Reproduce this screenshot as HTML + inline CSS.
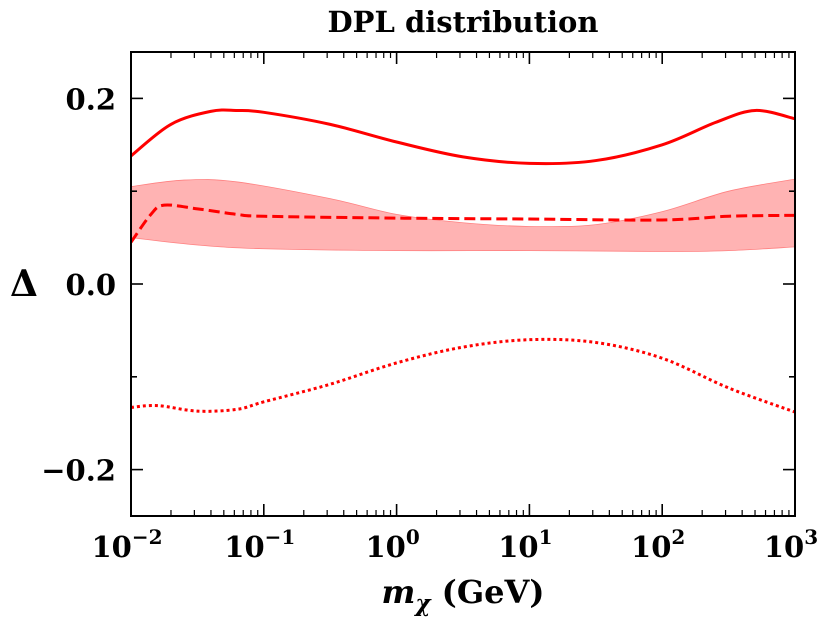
<!DOCTYPE html>
<html><head><meta charset="utf-8"><style>
html,body{margin:0;padding:0;background:#fff;}
svg text{font-family:"DejaVu Serif","Liberation Serif",serif;font-weight:bold;fill:#000;}
</style></head><body>
<svg id="chart" width="830" height="621" xmlns="http://www.w3.org/2000/svg"></svg>
<script>
const xsSolid=[-2,-1.7,-1.4,-1.2,-1,-0.5,0,0.5,1,1.5,2,2.4,2.7,3];
const solidVals=[0.138,0.172,0.186,0.187,0.185,0.172,0.153,0.137,0.130,0.133,0.150,0.174,0.187,0.178];
const xsDot=[-2,-1.8,-1.5,-1.2,-1,-0.5,0,0.5,1,1.5,2,2.5,3];
const dotVals=[-0.133,-0.131,-0.137,-0.135,-0.127,-0.108,-0.085,-0.068,-0.060,-0.063,-0.080,-0.112,-0.138];
const xsDash=[-2,-1.85,-1.75,-1.5,-1.2,-1,0,1,2,2.5,3];
const dashVals=[0.045,0.075,0.085,0.081,0.075,0.073,0.071,0.070,0.069,0.073,0.074];
const xsBandUp=[-2,-1.6,-1.2,-0.5,0,0.5,1,1.5,2,2.5,3];
const bandUp=[0.105,0.112,0.110,0.092,0.075,0.066,0.062,0.064,0.078,0.100,0.113];
const xsBandLo=[-2,-1.5,-1,0,1,2,2.5,3];
const bandLo=[0.050,0.042,0.038,0.036,0.036,0.035,0.036,0.040];
const xTickLabels=["-2","-1","0","1","2","3"];
const yTickVals=[0.2,0,-0.2];
const yTickLabels=["0.2","0.0","\u22120.2"];

const L=131,R=795,T=52,B=516;
const X=v=>L+(v+2)/5*(R-L);
const Y=v=>T+(0.25-v)/0.5*(B-T);
const svg=document.getElementById('chart');
const NS="http://www.w3.org/2000/svg";
function mk(tag,attrs,parent){const e=document.createElementNS(NS,tag);for(const k in attrs)e.setAttribute(k,attrs[k]);(parent||svg).appendChild(e);return e;}
function pts(xs,vs){return xs.map((x,i)=>[X(x),Y(vs[i])]);}
function smooth(p){let d="M"+p[0][0]+","+p[0][1];for(let i=0;i<p.length-1;i++){const p0=p[i-1]||p[i],p1=p[i],p2=p[i+1],p3=p[i+2]||p2;
const c1=[p1[0]+(p2[0]-p0[0])/6,p1[1]+(p2[1]-p0[1])/6],c2=[p2[0]-(p3[0]-p1[0])/6,p2[1]-(p3[1]-p1[1])/6];
d+=" C"+c1+" "+c2+" "+p2;}return d;}

const clip=mk('clipPath',{id:'pc'});mk('rect',{x:L,y:T,width:R-L,height:B-T},clip);
const g=mk('g',{'clip-path':'url(#pc)'});
const up=smooth(pts(xsBandUp,bandUp));
const loP=pts(xsBandLo,bandLo).reverse();
const band=mk('path',{d:up+" L"+loP[0]+smooth(loP).replace(/^M[^ ]+/,"")+" Z",fill:'#ffb3b3',stroke:'#ff8080','stroke-width':0.8},g);


const s=mk('path',{d:smooth(pts(xsSolid,solidVals)),fill:'none',stroke:'#f00','stroke-width':3},g);


const da=mk('path',{d:smooth(pts(xsDash,dashVals)),fill:'none',stroke:'#f00','stroke-width':3,'stroke-dasharray':'11,5'},g);


const dt=mk('path',{d:smooth(pts(xsDot,dotVals)),fill:'none',stroke:'#f00','stroke-width':3,'stroke-dasharray':'3,3'},g);



const fr=mk('rect',{x:L,y:T,width:R-L,height:B-T,fill:'none',stroke:'#000','stroke-width':2});


for(let d=-2;d<=3;d++){
  mk('line',{x1:X(d),x2:X(d),y1:B,y2:B-12,stroke:'#000','stroke-width':1.6});
  mk('line',{x1:X(d),x2:X(d),y1:T,y2:T+12,stroke:'#000','stroke-width':1.6});
  if(d<3)for(let m=2;m<10;m++){const xv=X(d+Math.log10(m));
    mk('line',{x1:xv,x2:xv,y1:B,y2:B-6,stroke:'#000','stroke-width':1.2});
    mk('line',{x1:xv,x2:xv,y1:T,y2:T+6,stroke:'#000','stroke-width':1.2});}
}
xTickLabels.forEach((lab,i)=>{const d=+lab;
  const t=mk('text',{x:X(d)-4,y:557,'font-size':29,'text-anchor':'middle'});
  
  
  t.textContent="10";
  const sp=mk('tspan',{dy:-13,'font-size':20},t);sp.textContent=(d<0?"\u2212":"")+Math.abs(d);
});
for(let v=-0.2;v<=0.21;v+=0.1){const yy=Y(v);const maj=Math.abs(Math.round(v*10))%2===0;
  mk('line',{x1:L,x2:L+(maj?12:6),y1:yy,y2:yy,stroke:'#000','stroke-width':1.6});
  mk('line',{x1:R,x2:R-(maj?12:6),y1:yy,y2:yy,stroke:'#000','stroke-width':1.6});}
yTickVals.forEach((v,i)=>{const t=mk('text',{x:116,y:Y(v)+11,'font-size':29,'text-anchor':'end'});
  
  
  t.textContent=yTickLabels[i];});
const ti=mk('text',{x:463,y:32,'font-size':29,'text-anchor':'middle'});


ti.textContent="DPL distribution";
const xl=mk('text',{x:463,y:603,'font-size':32,'text-anchor':'middle'});


xl.innerHTML='<tspan font-style="italic">m</tspan><tspan font-style="italic" font-size="23" dy="8">χ</tspan><tspan dy="-8"> (GeV)</tspan>';
const yl=mk('text',{x:24,y:296,'font-size':36,'text-anchor':'middle'});


yl.textContent="Δ";
</script>
</body></html>
